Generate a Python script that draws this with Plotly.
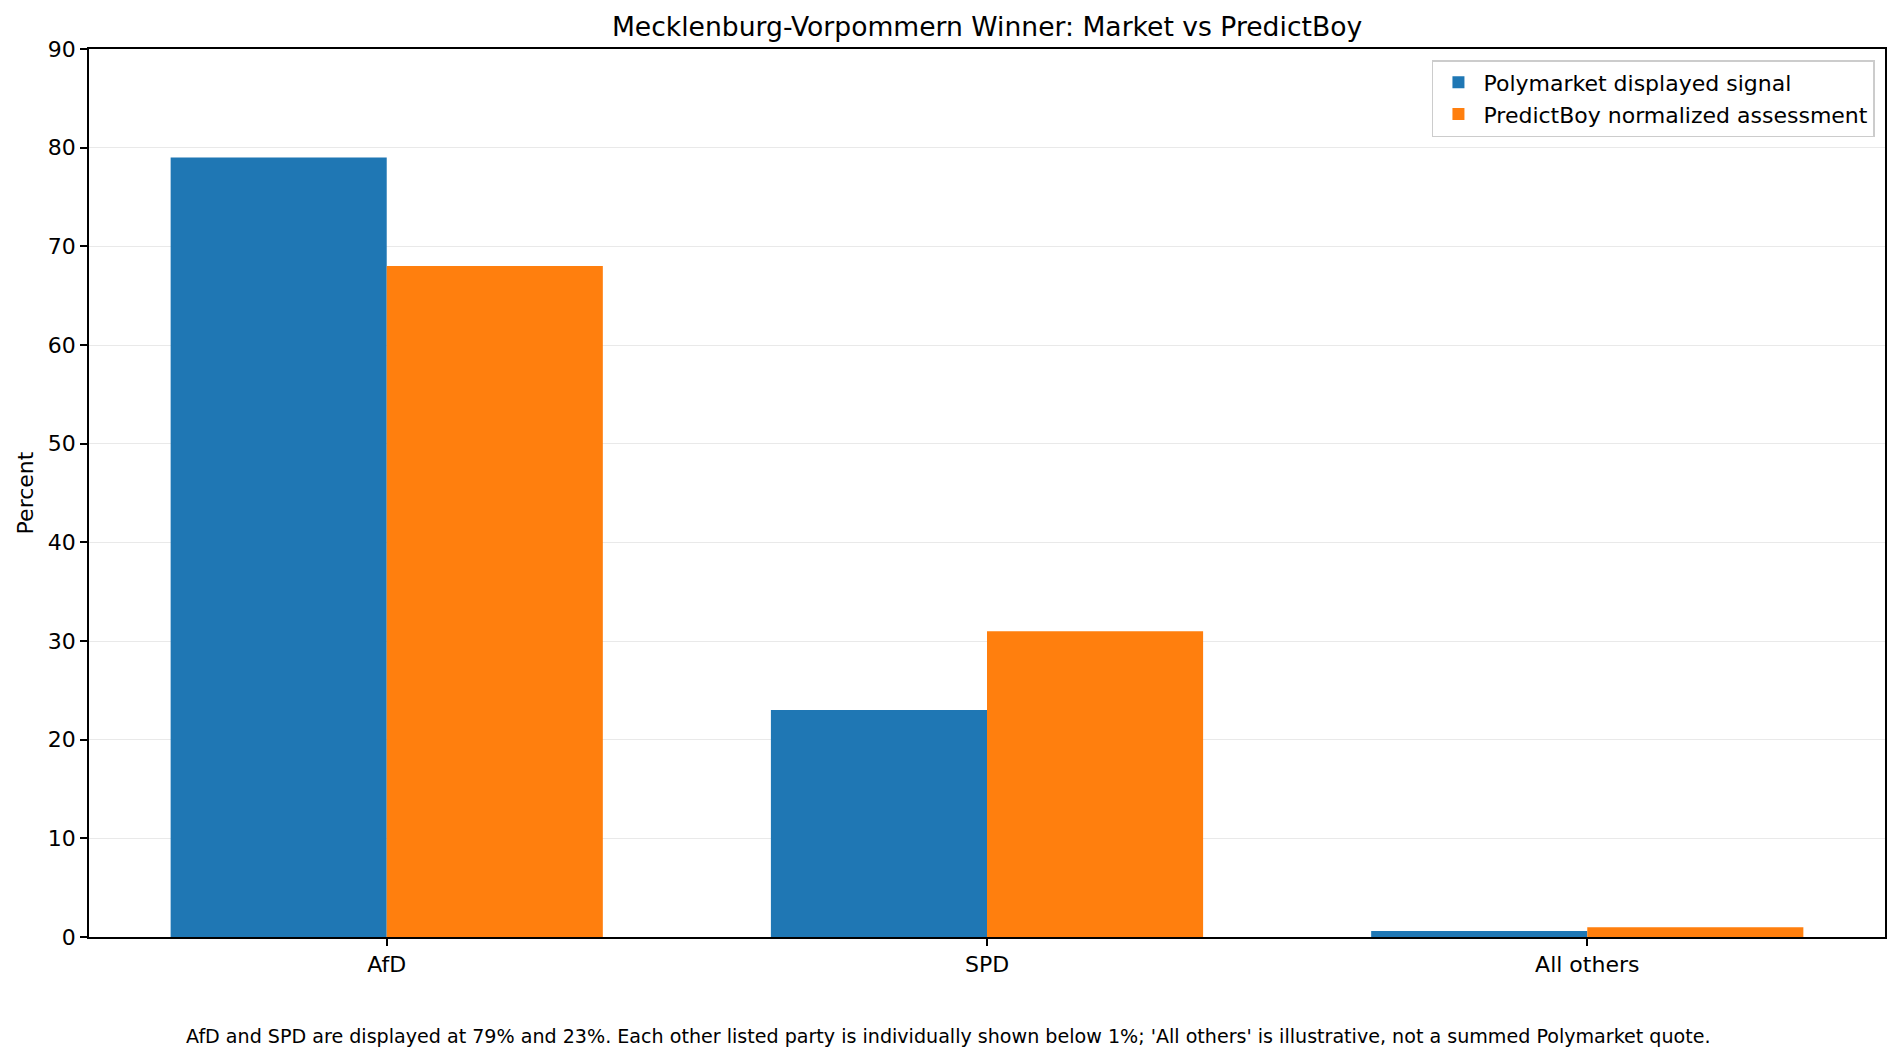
import plotly.graph_objects as go

# Data
categories = ["AfD", "SPD", "All others"]
polymarket = [79, 23, 0.6]
predictboy = [68, 31, 1.0]
y_ticks = [0, 10, 20, 30, 40, 50, 60, 70, 80, 90]

fig = go.Figure()
fig.add_trace(go.Bar(x=categories, y=polymarket, name="Polymarket displayed signal",
                     marker=dict(color="#1f77b4", line=dict(width=0))))
fig.add_trace(go.Bar(x=categories, y=predictboy, name="PredictBoy normalized assessment",
                     marker=dict(color="#ff7f0e", line=dict(width=0))))

# page body has an 8px margin, so the figure is a bit smaller than the window
fig.update_layout(
    width=1893, height=1053,
    margin=dict(l=81, r=16, t=41, b=124),
    paper_bgcolor="white", plot_bgcolor="white",
    font=dict(family="DejaVu Sans", size=22, color="black"),
    barmode="group", bargap=0.28, bargroupgap=0,
    title=dict(text="Mecklenburg-Vorpommern Winner: Market vs PredictBoy",
               x=0.5172, xanchor="center", y=1 - 19 / 1053, yanchor="middle",
               font=dict(size=26.6)),
    legend=dict(x=0.9944, xanchor="right", y=0.9876, yanchor="top",
                bordercolor="#cccccc", borderwidth=1.5, bgcolor="white",
                font=dict(size=22), tracegroupgap=0, itemwidth=40),
    showlegend=True,
)

fig.update_xaxes(range=[-0.496, 2.496], showline=True, mirror=True, linecolor="black", linewidth=1.5,
                 ticks="outside", ticklen=7, tickwidth=1.5, tickcolor="black",
                 showgrid=False, tickfont=dict(size=22))
fig.update_yaxes(range=[0, 90], tickvals=y_ticks, showline=True, mirror=True, linecolor="black",
                 linewidth=1.5, ticks="outside", ticklen=7, tickwidth=1.5, tickcolor="black",
                 showgrid=True, gridcolor="rgba(176,176,176,0.28)", gridwidth=1.2,
                 layer="above traces", zeroline=False, tickfont=dict(size=22),
                 title=dict(text="Percent", standoff=8, font=dict(size=22)))

fig.add_annotation(
    text="AfD and SPD are displayed at 79% and 23%. Each other listed party is individually shown below 1%; "
         "'All others' is illustrative, not a summed Polymarket quote.",
    xref="paper", yref="paper", x=0.4786, y=-0.1115, xanchor="center", yanchor="middle",
    showarrow=False, font=dict(size=19.1))

fig.write_html("out.html")
